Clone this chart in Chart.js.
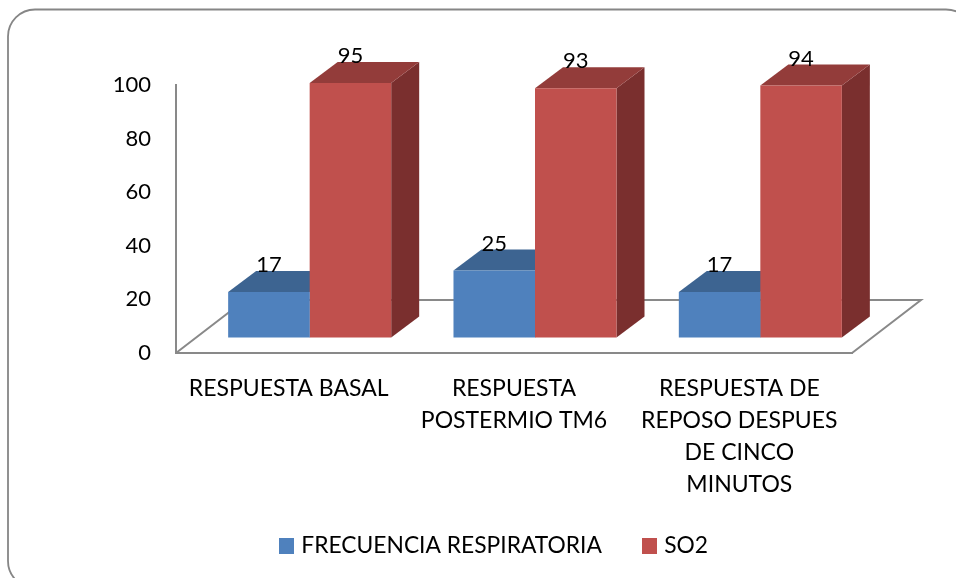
<!DOCTYPE html>
<html lang="es">
<head>
<meta charset="utf-8">
<title>Respuesta respiratoria</title>
<script src="https://cdn.jsdelivr.net/npm/chart.js@4/dist/chart.umd.js"></script>
<style>
  html, body { margin: 0; padding: 0; background: #fff; }
  #wrap { width: 956px; height: 578px; overflow: hidden; }
</style>
</head>
<body>
<div id="wrap"><canvas id="chart" width="956" height="578"></canvas></div>
<script>
const categories = [
  'RESPUESTA BASAL',
  ['RESPUESTA', 'POSTERMIO TM6'],
  ['RESPUESTA DE', 'REPOSO DESPUES', 'DE CINCO', 'MINUTOS']
];
const frecuenciaRespiratoria = [17, 25, 17];
const so2 = [95, 93, 94];
const seriesNames = ['FRECUENCIA RESPIRATORIA', 'SO2'];

const FONT = 'Lato, Carlito, Calibri, sans-serif';
const TEXT_SIZE = 23;
const LEGEND_SIZE = 22.8;
const NUMBER_SIZE = 22;
const AXIS_GRAY = '#898989';
const FRONT = ['#4F81BD', '#C0504D'];
const TOP = ['#3D6491', '#933C3A'];
const SIDE = ['#355880', '#7A2F2E'];

// Oblique projection: bars stand this far behind the front edge of the floor
const BAR_SHIFT = { x: 21, y: -15.5 };
const BAR_DEPTH = { x: 28, y: -21 };
const FLOOR_DEPTH = { x: 69, y: -53 };
const LEGEND_SHIFT = 20;

function poly(ctx, pts, fill) {
  ctx.beginPath();
  pts.forEach((p, i) => i ? ctx.lineTo(p[0], p[1]) : ctx.moveTo(p[0], p[1]));
  ctx.closePath();
  ctx.fillStyle = fill;
  ctx.fill();
}

const legendSwatch = color => {
  const c = document.createElement('canvas');
  c.width = 15; c.height = 16;
  const g = c.getContext('2d');
  g.fillStyle = color;
  g.fillRect(0, 0, 15, 16);
  return c;
};

const panelFrame = {
  id: 'panelFrame',
  afterLayout(chart) {
    // Centres the key under the whole panel rather than under the plot
    chart.legend.left += LEGEND_SHIFT;
    chart.legend.right += LEGEND_SHIFT;
    // The four-line category label runs past the axis box reserved above the key
    chart.scales.x.bottom = chart.height;
  },
  beforeDraw(chart) {
    const { ctx } = chart;
    ctx.save();
    ctx.strokeStyle = '#868686';
    ctx.lineWidth = 1.8;
    ctx.beginPath();
    ctx.roundRect(8, 9.5, 965, 578.5, 27);
    ctx.stroke();
    ctx.restore();
  }
};

const bars3d = {
  id: 'bars3d',
  beforeDatasetsDraw(chart) {
    const { ctx, chartArea: a } = chart;
    ctx.save();
    ctx.strokeStyle = AXIS_GRAY;
    ctx.lineWidth = 2;
    ctx.beginPath();
    ctx.moveTo(a.left, a.bottom);
    ctx.lineTo(a.left + FLOOR_DEPTH.x, a.bottom + FLOOR_DEPTH.y);
    ctx.lineTo(a.right + FLOOR_DEPTH.x, a.bottom + FLOOR_DEPTH.y);
    ctx.lineTo(a.right, a.bottom);
    ctx.stroke();
    ctx.restore();

    // Stays active until afterDatasetsDraw so the library's bars land on the shifted plane
    ctx.save();
    ctx.translate(BAR_SHIFT.x, BAR_SHIFT.y);
    chart.getSortedVisibleDatasetMetas().forEach((meta, di) => {
      meta.data.forEach(bar => {
        const { x, y, width, base } = bar.getProps(['x', 'y', 'width', 'base'], true);
        const l = x - width / 2, r = x + width / 2;
        const dx = BAR_DEPTH.x, dy = BAR_DEPTH.y;
        poly(ctx, [[r, y], [r + dx, y + dy], [r + dx, base + dy], [r, base]], SIDE[di]);
        poly(ctx, [[l, y], [r, y], [r + dx, y + dy], [l + dx, y + dy]], TOP[di]);
      });
    });
  },
  afterDatasetsDraw(chart) {
    const { ctx } = chart;
    ctx.fillStyle = '#000';
    ctx.font = `${NUMBER_SIZE}px ${FONT}`;
    ctx.textAlign = 'center';
    ctx.textBaseline = 'middle';
    chart.getSortedVisibleDatasetMetas().forEach((meta, di) => {
      meta.data.forEach((bar, i) => {
        const { x, y } = bar.getProps(['x', 'y'], true);
        ctx.fillText(chart.data.datasets[di].data[i], x, y - 27);
      });
    });
    ctx.restore();
  }
};

new Chart(document.getElementById('chart'), {
  type: 'bar',
  data: {
    labels: categories,
    datasets: [
      { label: seriesNames[0], data: frecuenciaRespiratoria, backgroundColor: FRONT[0], clip: false },
      { label: seriesNames[1], data: so2, backgroundColor: FRONT[1], clip: false }
    ]
  },
  plugins: [panelFrame, bars3d],
  options: {
    responsive: false,
    animation: false,
    layout: { padding: { left: 100, right: 104, top: 85, bottom: 11 } },
    datasets: { bar: { barPercentage: 1, categoryPercentage: 0.7235 } },
    plugins: {
      tooltip: { enabled: false },
      legend: {
        position: 'bottom',
        labels: {
          color: '#000',
          font: { family: FONT, size: LEGEND_SIZE },
          padding: 45,
          usePointStyle: true,
          pointStyleWidth: 6,
          generateLabels: chart => chart.data.datasets.map((d, i) => ({
            text: d.label,
            datasetIndex: i,
            fontColor: '#000',
            fillStyle: d.backgroundColor,
            pointStyle: legendSwatch(d.backgroundColor)
          }))
        }
      }
    },
    scales: {
      x: {
        grid: { display: false, drawTicks: false },
        border: { display: true, color: AXIS_GRAY, width: 2 },
        ticks: {
          color: '#000',
          font: { family: FONT, size: TEXT_SIZE, lineHeight: 1.39 },
          autoSkip: false,
          maxRotation: 0,
          minRotation: 0,
          padding: 20
        },
        afterFit(s) { s.height = 136.24; }
      },
      y: {
        min: 0,
        max: 100,
        grid: { display: false, drawTicks: false },
        border: { display: true, color: AXIS_GRAY, width: 2 },
        ticks: {
          color: '#000',
          stepSize: 20,
          font: { family: FONT, size: NUMBER_SIZE },
          padding: 25
        },
        afterFit(s) { s.width = 76; }
      }
    }
  }
});
</script>
</body>
</html>
